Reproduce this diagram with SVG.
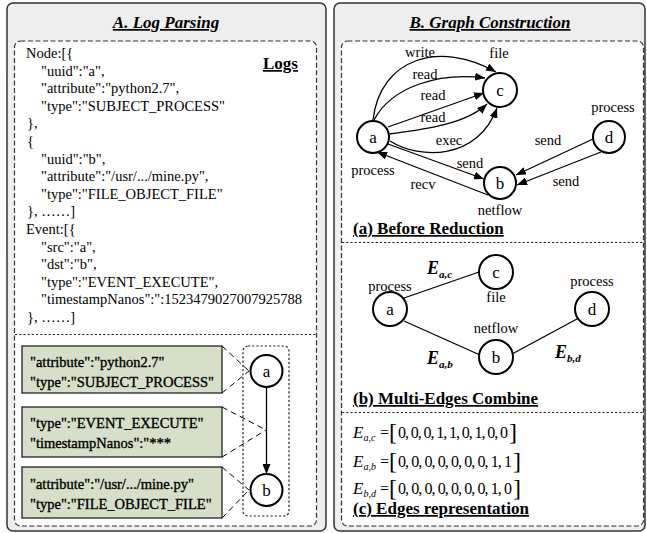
<svg xmlns="http://www.w3.org/2000/svg" width="647" height="533" viewBox="0 0 647 533">
<defs>
<marker id="ah" markerWidth="10" markerHeight="8" refX="10" refY="4" orient="auto" markerUnits="userSpaceOnUse">
<path d="M0,0 L10,4 L0,8 Z" fill="#000"/>
</marker>
<style>
.panel{fill:#eeeeee;stroke:#333;stroke-width:1.5}
.inner{fill:#fff;stroke:#333;stroke-width:1.2;stroke-dasharray:5,2.5}
.sep{stroke:#222;stroke-width:1.2;stroke-dasharray:2.2,2}
.title{font-family:"Liberation Serif",serif;font-size:17px;font-weight:bold;font-style:italic;text-decoration:underline;text-anchor:middle}
.sub{font-family:"Liberation Serif",serif;font-size:17px;font-weight:bold;text-decoration:underline}
.log{font-family:"Liberation Serif",serif;font-size:14.5px;fill:#000}
.box{fill:#d6e0c9;stroke:#222;stroke-width:1.3}
.bt{font-family:"Liberation Serif",serif;font-size:14.5px;fill:#000;stroke:#000;stroke-width:0.35}
.nd{fill:#fff;stroke:#000;stroke-width:2}
.nl{font-family:"Liberation Serif",serif;font-size:17px;text-anchor:middle}
.lb{font-family:"Liberation Serif",serif;font-size:14.5px;text-anchor:middle}
.e{fill:none;stroke:#000;stroke-width:1.3}
.ea{fill:none;stroke:#000;stroke-width:1.3;marker-end:url(#ah)}
.dl{fill:none;stroke:#000;stroke-width:1;stroke-dasharray:6,4}
.E{font-family:"Liberation Serif",serif;font-weight:bold;font-style:italic}
.M{font-family:"Liberation Serif",serif;font-style:italic}
.N{font-family:"Liberation Serif",serif}
</style>
</defs>

<g id="panelA">
<rect class="panel" x="7" y="3" width="319" height="528" rx="6"/>
<text class="title" x="166" y="28">A. Log Parsing</text>
<rect class="inner" x="14.5" y="41" width="302" height="485" rx="6"/>
<line class="sep" x1="15" y1="334.5" x2="316" y2="334.5"/>
</g>

<g id="logs">
<text class="sub" x="263" y="69">Logs</text>
<text class="log" x="26" y="58">Node:[{</text>
<text class="log" x="41" y="75.6">"uuid":"a",</text>
<text class="log" x="41" y="93.2">"attribute":"python2.7",</text>
<text class="log" x="41" y="110.8">"type":"SUBJECT_PROCESS"</text>
<text class="log" x="27" y="128.4">},</text>
<text class="log" x="27" y="146">{</text>
<text class="log" x="41" y="163.6">"uuid":"b",</text>
<text class="log" x="41" y="181.2">"attribute":"/usr/.../mine.py",</text>
<text class="log" x="41" y="198.8">"type":"FILE_OBJECT_FILE"</text>
<text class="log" x="27" y="216.4">}, ……]</text>
<text class="log" x="26" y="234">Event:[{</text>
<text class="log" x="41" y="251.6">"src":"a",</text>
<text class="log" x="41" y="269.2">"dst":"b",</text>
<text class="log" x="41" y="286.8">"type":"EVENT_EXECUTE",</text>
<text class="log" x="41" y="304.4">"timestampNanos":":1523479027007925788</text>
<text class="log" x="27" y="322">}, ……]</text>
</g>

<g id="box1">
<rect class="box" x="22" y="346" width="200" height="47"/>
<text class="bt" x="30" y="367">"attribute":"python2.7"</text>
<text class="bt" x="30" y="387">"type":"SUBJECT_PROCESS"</text>
</g>
<g id="box2">
<rect class="box" x="22" y="407" width="200" height="50"/>
<text class="bt" x="30" y="428">"type":"EVENT_EXECUTE"</text>
<text class="bt" x="30" y="448">"timestampNanos":"***</text>
</g>
<g id="box3">
<rect class="box" x="22" y="467" width="200" height="51"/>
<text class="bt" x="30" y="489">"attribute":"/usr/.../mine.py"</text>
<text class="bt" x="30" y="509">"type":"FILE_OBJECT_FILE"</text>
</g>

<g id="miniGraph">
<rect x="243" y="346" width="46" height="170" rx="5" fill="none" stroke="#222" stroke-width="1.2" stroke-dasharray="2.2,2"/>
</g>

<g id="connectorsA">
<path class="dl" d="M222,346 L249,371 M222,393 L249,371"/>
<path class="dl" d="M222,407 L266,430 M222,457 L266,430"/>
<path class="dl" d="M222,467 L249,490 M222,518 L249,490"/>
<line class="ea" x1="266.5" y1="387" x2="266.5" y2="474"/>
</g>

<g id="A_a">
<circle class="nd" cx="266.5" cy="371" r="16"/>
<text class="nl" x="266.5" y="377">a</text>
</g>
<g id="A_b">
<circle class="nd" cx="266.5" cy="490" r="16"/>
<text class="nl" x="266.5" y="496">b</text>
</g>

<g id="panelB">
<rect class="panel" x="334" y="3" width="311" height="528" rx="6"/>
<text class="title" x="490" y="28">B. Graph Construction</text>
<rect class="inner" x="341.5" y="41" width="302" height="485" rx="6"/>
<line class="sep" x1="342" y1="242.5" x2="643" y2="242.5"/>
<line class="sep" x1="342" y1="412.5" x2="643" y2="412.5"/>
</g>

<g id="connectorsB">
<path class="ea" d="M373,120 C380,58 440,40 496,72"/>
<path class="ea" d="M374,120 C392,86 440,72 485,78"/>
<path class="ea" d="M388,127 L484,93"/>
<path class="ea" d="M390,134 C420,130 465,125 487,104"/>
<path class="ea" d="M390,141 C420,160 478,160 497,108"/>
<path class="ea" d="M388,144 L484,179"/>
<path class="ea" d="M488,195 L377,152"/>
<path class="ea" d="M593,139 L516,175"/>
<path class="ea" d="M601,152 L517,185"/>
<line class="e" x1="404" y1="298" x2="479" y2="272"/>
<line class="e" x1="404" y1="321" x2="480" y2="355"/>
<line class="e" x1="512" y1="354" x2="577" y2="319"/>
</g>

<g id="labelsA">
<text class="lb" x="420" y="57">write</text>
<text class="lb" x="499" y="58">file</text>
<text class="lb" x="425" y="79">read</text>
<text class="lb" x="433" y="100">read</text>
<text class="lb" x="433" y="122">read</text>
<text class="lb" x="449" y="145">exec</text>
<text class="lb" x="613" y="112">process</text>
<text class="lb" x="548" y="145">send</text>
<text class="lb" x="470" y="168">send</text>
<text class="lb" x="373" y="175">process</text>
<text class="lb" x="423" y="189">recv</text>
<text class="lb" x="566" y="186">send</text>
<text class="lb" x="500" y="215">netflow</text>
<text class="sub" x="353" y="234">(a) Before Reduction</text>
</g>

<g id="Ba_a"><circle class="nd" cx="373" cy="137" r="16"/><text class="nl" x="373" y="143">a</text></g>
<g id="Ba_c"><circle class="nd" cx="500" cy="90" r="17"/><text class="nl" x="500" y="96">c</text></g>
<g id="Ba_d"><circle class="nd" cx="609" cy="137" r="16"/><text class="nl" x="609" y="143">d</text></g>
<g id="Ba_b"><circle class="nd" cx="500" cy="183" r="16"/><text class="nl" x="500" y="189">b</text></g>

<g id="Bb_a"><circle class="nd" cx="390" cy="309" r="17"/><text class="nl" x="390" y="315">a</text></g>
<g id="Bb_c"><circle class="nd" cx="496" cy="272" r="17"/><text class="nl" x="496" y="278">c</text></g>
<g id="Bb_b"><circle class="nd" cx="496" cy="357" r="17"/><text class="nl" x="496" y="363">b</text></g>
<g id="Bb_d"><circle class="nd" cx="592" cy="309" r="17"/><text class="nl" x="592" y="315">d</text></g>

<g id="labelsB">
<text class="lb" x="390" y="291">process</text>
<text class="lb" x="496" y="302">file</text>
<text class="lb" x="496" y="333">netflow</text>
<text class="lb" x="592" y="286">process</text>
<text class="E" x="427" y="274" font-size="18">E<tspan font-size="11" dy="4">a,c</tspan></text>
<text class="E" x="427" y="364" font-size="18">E<tspan font-size="11" dy="4">a,b</tspan></text>
<text class="E" x="555" y="358" font-size="18">E<tspan font-size="11" dy="4">b,d</tspan></text>
<text class="sub" x="353" y="404">(b) Multi-Edges Combine</text>
</g>

<g id="edgesRep">
<text class="M" x="353" y="438" font-size="17">E<tspan font-size="10" dy="3">a,c</tspan></text>
<text class="N" x="380" y="438" font-size="16">=</text>
<text class="N" x="389" y="440" font-size="24">[</text>
<text class="N" x="398" y="438" font-size="16" textLength="110">0, 0, 0, 1, 1, 0, 1, 0, 0</text>
<text class="N" x="509" y="440" font-size="24">]</text>

<text class="M" x="353" y="467" font-size="17">E<tspan font-size="10" dy="3">a,b</tspan></text>
<text class="N" x="380" y="467" font-size="16">=</text>
<text class="N" x="389" y="469" font-size="24">[</text>
<text class="N" x="398" y="467" font-size="16" textLength="114">0, 0, 0, 0, 0, 0, 0, 1, 1</text>
<text class="N" x="513" y="469" font-size="24">]</text>

<text class="M" x="353" y="494" font-size="17">E<tspan font-size="10" dy="3">b,d</tspan></text>
<text class="N" x="380" y="494" font-size="16">=</text>
<text class="N" x="389" y="496" font-size="24">[</text>
<text class="N" x="398" y="494" font-size="16" textLength="114">0, 0, 0, 0, 0, 0, 0, 1, 0</text>
<text class="N" x="513" y="496" font-size="24">]</text>

<text class="sub" x="353" y="514">(c) Edges representation</text>
</g>
</svg>
